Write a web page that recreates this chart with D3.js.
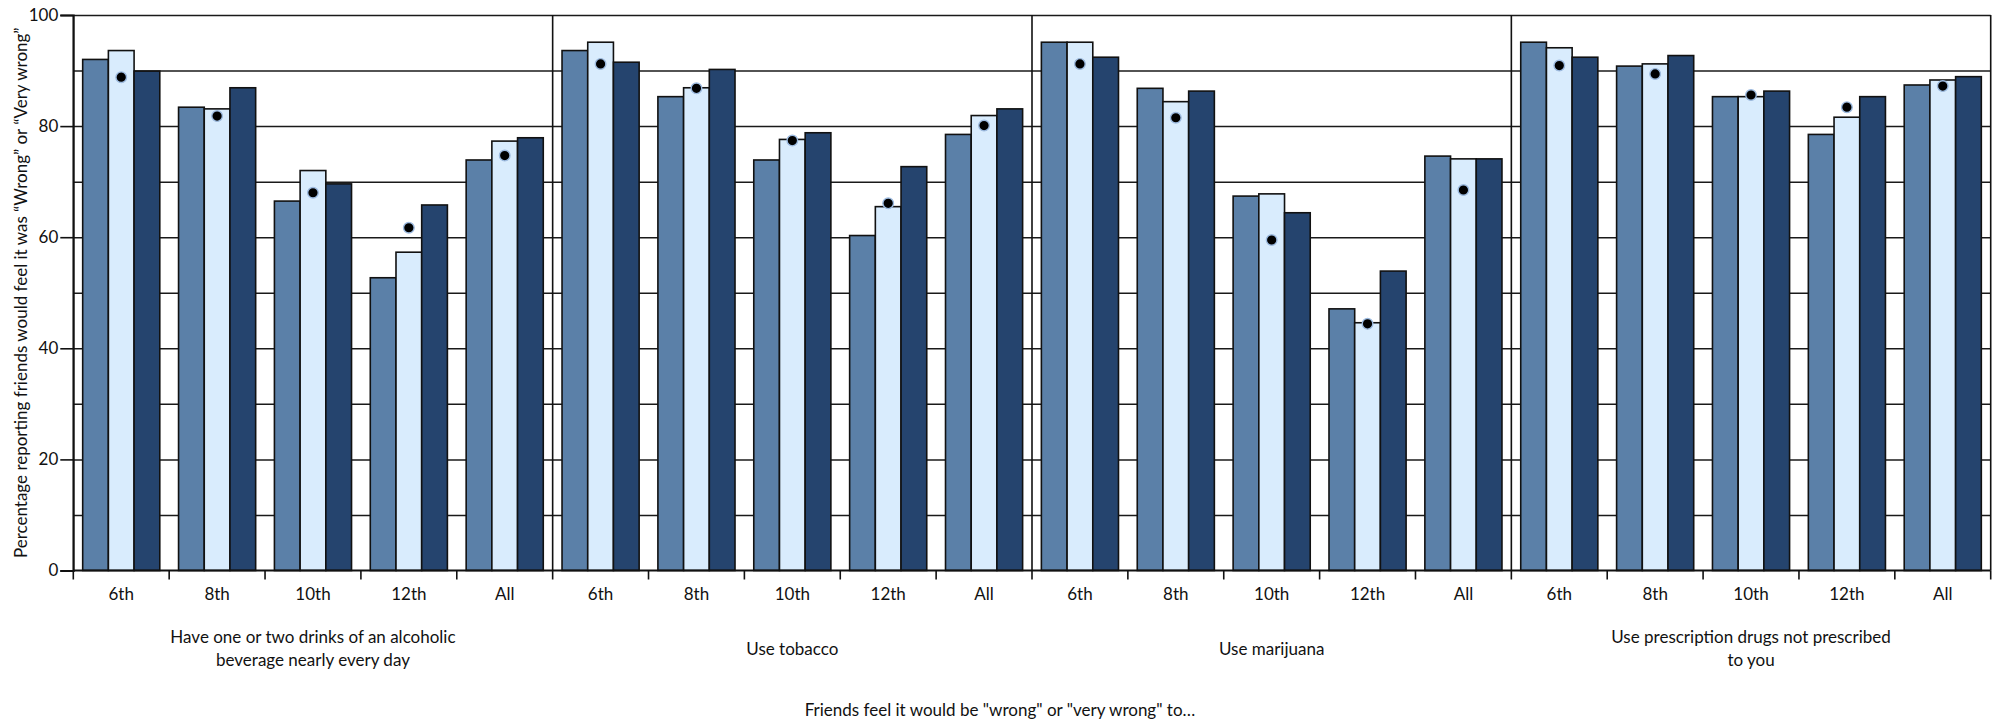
<!DOCTYPE html>
<html>
<head>
<meta charset="utf-8">
<script src="https://cdn.jsdelivr.net/npm/d3@7"></script>
<style>
  html, body { margin: 0; padding: 0; background: #fff; }
  svg { display: block; }
  text { font-family: "Liberation Sans Narrow", "Lato", "Liberation Sans", sans-serif; fill: #111; }
</style>
</head>
<body>
<svg id="chart" width="1999" height="726"></svg>
<script>
// ---------- data ----------
const panelLabels = [
  ["Have one or two drinks of an alcoholic", "beverage nearly every day"],
  ["Use tobacco"],
  ["Use marijuana"],
  ["Use prescription drugs not prescribed", "to you"]
];
const grades = ["6th", "8th", "10th", "12th", "All"];
// three bar series (left, middle, right) and the dot marker, panel by panel, grade by grade
const seriesA = [92.0, 83.4, 66.5, 52.7, 73.9,  93.6, 85.3, 73.9, 60.3, 78.5,  95.1, 86.8, 67.4, 47.1, 74.6,  95.1, 90.8, 85.3, 78.5, 87.4];
const seriesB = [93.6, 83.1, 72.0, 57.3, 77.3,  95.1, 86.9, 77.6, 65.5, 81.9,  95.1, 84.4, 67.8, 44.6, 74.1,  94.1, 91.2, 85.3, 81.6, 88.3];
const seriesC = [89.9, 86.9, 69.6, 65.8, 77.9,  91.5, 90.2, 78.8, 72.7, 83.1,  92.4, 86.3, 64.4, 53.9, 74.1,  92.4, 92.7, 86.3, 85.3, 88.9];
const markers = [88.8, 81.8, 68.0, 61.7, 74.7,  91.2, 86.8, 77.4, 66.1, 80.1,  91.2, 81.5, 59.5, 44.4, 68.5,  90.9, 89.4, 85.6, 83.4, 87.2];
const yTicks = [0, 20, 40, 60, 80, 100];
const yGrid = [10, 20, 30, 40, 50, 60, 70, 80, 90, 100];
const yTitle = "Percentage reporting friends would feel it was \u201cWrong\u201d or \u201cVery wrong\u201d";
const xTitle = "Friends feel it would be \"wrong\" or \"very wrong\" to\u2026";

// ---------- build ----------
const colors = ["#5b80a8", "#d9ecfd", "#25446e"];
const seriesList = [seriesA, seriesB, seriesC];
const rows = [];
panelLabels.forEach((p, pi) => grades.forEach((g, gi) => {
  const i = pi * grades.length + gi;
  rows.push({ key: pi + "|" + g, panel: pi, grade: g, vals: seriesList.map(s => s[i]), marker: markers[i] });
}));

const svg = d3.select("#chart");
const mLeft = 73.3, mRight = 1990.7, mTop = 15, mBottom = 570.5;

const x = d3.scaleBand().domain(rows.map(r => r.key)).range([mLeft, mRight]).padding(0);
const xInner = d3.scaleBand().domain([0, 1, 2]).range([0, x.bandwidth()]).paddingInner(0).paddingOuter(0.365);
const y = d3.scaleLinear().domain([0, 100]).range([mBottom, mTop]);

// gridlines (behind bars)
svg.append("g")
  .attr("transform", `translate(${mLeft},0)`)
  .call(d3.axisLeft(y).tickValues(yGrid).tickSize(-(mRight - mLeft)).tickFormat(""))
  .call(g => g.select(".domain").remove())
  .call(g => g.selectAll("line").attr("stroke", "#1a1a1a").attr("stroke-width", 1.5));

// bars
const groups = svg.append("g").selectAll("g").data(rows).join("g")
  .attr("transform", d => `translate(${x(d.key)},0)`);
groups.selectAll("rect").data(d => d.vals.map((v, k) => ({ v, k }))).join("rect")
  .attr("x", d => xInner(d.k))
  .attr("width", xInner.bandwidth())
  .attr("y", d => y(d.v))
  .attr("height", d => y(0) - y(d.v))
  .attr("fill", d => colors[d.k])
  .attr("stroke", "#111")
  .attr("stroke-width", 1.6);

// markers
groups.append("circle")
  .attr("cx", xInner(1) + xInner.bandwidth() / 2)
  .attr("cy", d => y(d.marker))
  .attr("r", 5.3)
  .attr("fill", "#000")
  .attr("stroke", "#9dbbe0")
  .attr("stroke-width", 1.4);

// panel separators and right border
const panelEdges = panelLabels.map((p, pi) => x(pi + "|" + grades[0])).concat([mRight]);
svg.append("g").selectAll("line").data(panelEdges).join("line")
  .attr("x1", d => d).attr("x2", d => d)
  .attr("y1", mTop).attr("y2", mBottom)
  .attr("stroke", "#111").attr("stroke-width", 1.6);

// y axis
svg.append("g")
  .attr("transform", `translate(${mLeft},0)`)
  .call(d3.axisLeft(y).tickValues(yTicks).tickSize(13).tickPadding(2))
  .call(g => g.select(".domain").attr("stroke", "#111").attr("stroke-width", 1.8))
  .call(g => g.selectAll("line").attr("stroke", "#111").attr("stroke-width", 1.6))
  .call(g => g.selectAll("text").attr("font-size", 17).attr("fill", "#111")
    .style("font-family", "'Liberation Sans Narrow', Lato, sans-serif"));

// x axis baseline + boundary ticks
const boundaries = rows.map(r => x(r.key)).concat([mRight]);
svg.append("line").attr("x1", mLeft).attr("x2", mRight).attr("y1", y(0)).attr("y2", y(0))
  .attr("stroke", "#111").attr("stroke-width", 1.8);
svg.append("g").selectAll("line").data(boundaries).join("line")
  .attr("x1", d => d).attr("x2", d => d)
  .attr("y1", y(0)).attr("y2", y(0) + 9)
  .attr("stroke", "#111").attr("stroke-width", 1.6);

// grade labels
svg.append("g").selectAll("text").data(rows).join("text")
  .attr("x", d => x(d.key) + x.bandwidth() / 2)
  .attr("y", y(0) + 29)
  .attr("text-anchor", "middle")
  .attr("font-size", 17)
  .text(d => d.grade);

// panel labels
const panelW = (mRight - mLeft) / panelLabels.length;
panelLabels.forEach((lines, pi) => {
  const cx = x(pi + "|" + grades[0]) + panelW / 2;
  const lh = 23;
  const cy = 648.5;
  const t = svg.append("text").attr("text-anchor", "middle").attr("font-size", 17);
  lines.forEach((ln, li) => {
    t.append("tspan").attr("x", cx)
      .attr("y", cy + (li - (lines.length - 1) / 2) * lh + 6)
      .text(ln);
  });
});

// axis titles
svg.append("text")
  .attr("transform", `translate(27,${(mTop + mBottom) / 2}) rotate(-90)`)
  .attr("text-anchor", "middle")
  .attr("font-size", 17)
  .text(yTitle);

svg.append("text")
  .attr("x", 1000).attr("y", 716)
  .attr("text-anchor", "middle")
  .attr("font-size", 17)
  .text(xTitle);
</script>
</body>
</html>
